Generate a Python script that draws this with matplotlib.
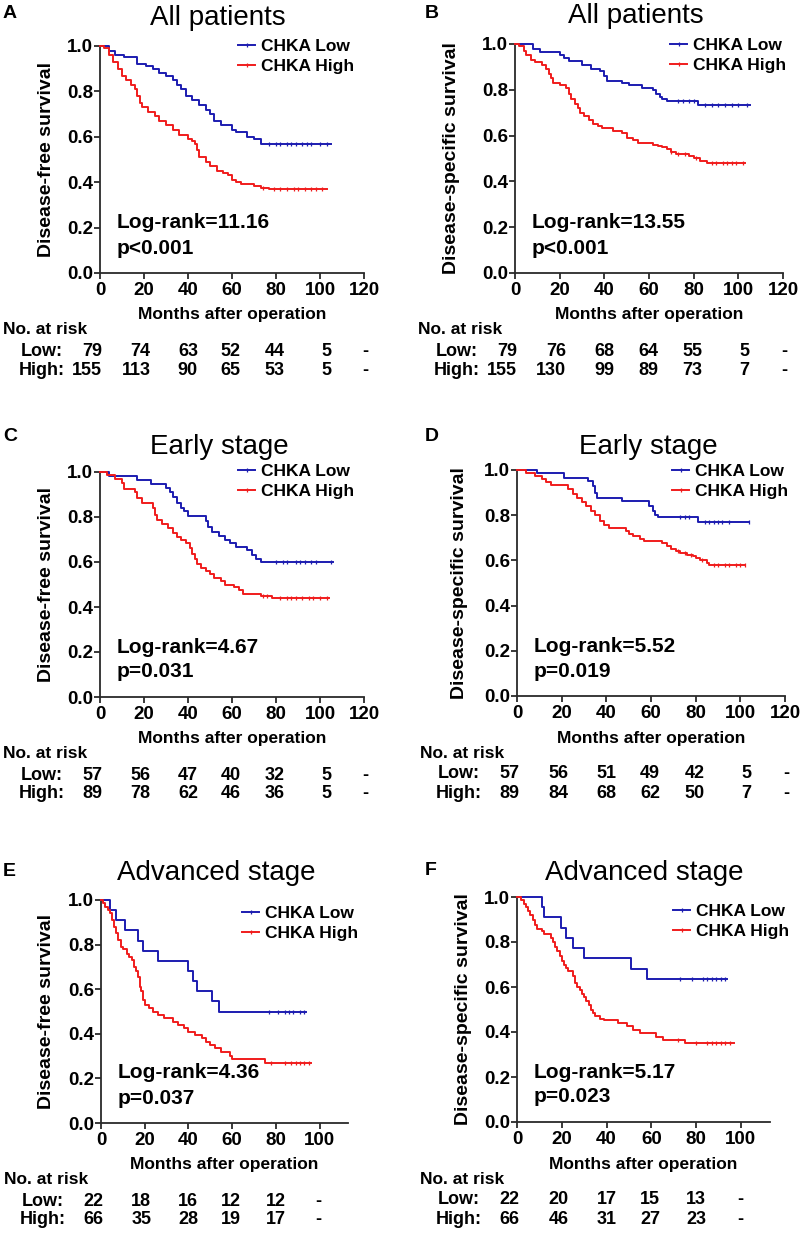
import numpy as np
import matplotlib
matplotlib.use("Agg")
import matplotlib.pyplot as plt
from matplotlib.lines import Line2D
from matplotlib.transforms import blended_transform_factory

plt.rcParams['font.family'] = ['Liberation Sans', 'DejaVu Sans']

W, H = 800, 1234
BLUE = '#1c1cb0'
RED = '#f01c1c'
AXC = '#2a2a2a'

# ---------------- DATA ---------------- #
# each curve: event times (months), survival after each step, censor times, last follow-up

A_low_t = [4, 7, 11, 17, 21, 24, 27, 30, 33, 35, 37, 39, 42, 45, 48, 50, 52, 55, 60, 62, 67, 70, 73]
A_low_s = [0.98, 0.96, 0.95, 0.92, 0.91, 0.90, 0.88, 0.87, 0.85, 0.83, 0.81, 0.78, 0.76, 0.74,
           0.72, 0.70, 0.67, 0.65, 0.63, 0.62, 0.60, 0.59, 0.57]
A_low_cens = [77, 80, 82, 85, 87, 89, 92, 94, 96, 100, 103]
A_low_end = 105
A_high_t = [2, 4, 6, 8, 10, 12, 14, 16, 17, 18, 19, 22, 25, 27, 30, 33, 36, 40, 42, 43, 44, 45,
            48, 50, 53, 56, 58, 60, 62, 64, 70, 73, 77]
A_high_s = [0.99, 0.96, 0.93, 0.90, 0.87, 0.85, 0.83, 0.81, 0.78, 0.75, 0.73, 0.71, 0.69, 0.67,
            0.65, 0.63, 0.61, 0.59, 0.58, 0.57, 0.54, 0.51, 0.49, 0.47, 0.45, 0.44, 0.43, 0.41,
            0.40, 0.39, 0.385, 0.375, 0.37]
A_high_cens = [74, 79, 82, 85, 88, 90, 93, 96, 98, 101]
A_high_end = 103

B_low_t = [8, 11, 20, 22, 24, 30, 34, 38, 40, 41, 48, 51, 57, 62, 63, 65, 66, 68, 82]
B_low_s = [0.98, 0.963, 0.95, 0.94, 0.924, 0.91, 0.89, 0.88, 0.86, 0.839, 0.83, 0.82, 0.81, 0.80,
           0.78, 0.77, 0.76, 0.749, 0.735]
B_low_cens = [73, 75, 78, 80, 85, 88, 91, 94, 97, 100, 104]
B_low_end = 105
B_high_t = [2, 4, 5, 7, 9, 12, 14, 15, 16, 17, 20, 23, 24, 25, 27, 28, 29, 31, 33, 35, 37, 39,
            44, 48, 50, 53, 55, 62, 64, 66, 68, 70, 72, 78, 80, 83, 86]
B_high_s = [0.99, 0.97, 0.95, 0.93, 0.92, 0.91, 0.89, 0.87, 0.85, 0.83, 0.82, 0.81, 0.78, 0.76,
            0.74, 0.72, 0.70, 0.684, 0.67, 0.65, 0.64, 0.633, 0.62, 0.611, 0.59, 0.58, 0.567,
            0.56, 0.555, 0.55, 0.54, 0.53, 0.52, 0.51, 0.50, 0.49, 0.48]
B_high_cens = [70, 73, 76, 81, 88, 90, 93, 95, 97, 99, 102]
B_high_end = 103

C_low_t = [4, 17, 23, 30, 32, 33, 35, 37, 38, 40, 48, 49, 51, 54, 57, 59, 62, 67, 69, 71, 73]
C_low_s = [0.982, 0.963, 0.945, 0.93, 0.91, 0.89, 0.86, 0.84, 0.825, 0.805, 0.78, 0.757, 0.735,
           0.715, 0.70, 0.685, 0.668, 0.655, 0.63, 0.615, 0.60]
C_low_cens = [80, 83, 85, 89, 91, 93, 96, 98, 105]
C_low_end = 106
C_high_t = [3, 7, 10, 11, 16, 17, 19, 24, 25, 26, 28, 31, 33, 35, 37, 39, 41, 42, 43, 44, 46,
            48, 50, 52, 55, 57, 61, 63, 65, 73, 78]
C_high_s = [0.985, 0.97, 0.95, 0.926, 0.91, 0.885, 0.86, 0.84, 0.81, 0.785, 0.77, 0.75, 0.73,
            0.713, 0.70, 0.685, 0.66, 0.635, 0.615, 0.59, 0.575, 0.56, 0.545, 0.53, 0.515, 0.50,
            0.49, 0.475, 0.46, 0.45, 0.44]
C_high_cens = [74, 76, 82, 85, 87, 89, 92, 95, 97, 100, 103]
C_high_end = 104

D_low_t = [9, 21, 32, 34, 35, 36, 47, 59, 61, 62, 63, 81]
D_low_s = [0.985, 0.966, 0.95, 0.93, 0.90, 0.878, 0.863, 0.84, 0.82, 0.80, 0.79, 0.771]
D_low_cens = [73, 75, 77, 84, 86, 88, 90, 92, 95, 104]
D_low_end = 104
D_high_t = [4, 8, 11, 13, 15, 23, 25, 27, 29, 31, 33, 35, 37, 39, 41, 49, 50, 52, 55, 57, 65,
            67, 69, 71, 73, 76, 79, 80, 82, 85, 86]
D_high_s = [0.985, 0.975, 0.96, 0.945, 0.933, 0.915, 0.895, 0.875, 0.86, 0.84, 0.82, 0.80, 0.775,
            0.756, 0.745, 0.73, 0.715, 0.71, 0.695, 0.687, 0.675, 0.665, 0.65, 0.64, 0.631, 0.625,
            0.62, 0.61, 0.60, 0.59, 0.58]
D_high_cens = [72, 75, 78, 83, 88, 90, 93, 95, 98, 100, 102]
D_high_end = 102

E_low_t = [4, 7, 11, 17, 19, 26, 40, 42, 44, 51, 54]
E_low_s = [0.955, 0.909, 0.864, 0.818, 0.773, 0.727, 0.682, 0.636, 0.591, 0.545, 0.50]
E_low_cens = [77, 81, 84, 86, 88, 91, 93]
E_low_end = 94
E_high_t = [1, 2, 3, 4, 5, 6, 7, 8, 9, 10, 12, 13, 14, 15, 16, 17, 18, 18.5, 19, 20, 22, 24, 26,
            29, 33, 35, 38, 40, 43, 46, 48, 50, 52, 55, 59, 60, 75]
E_high_s = [0.985, 0.97, 0.955, 0.94, 0.91, 0.88, 0.85, 0.82, 0.79, 0.78, 0.76, 0.745, 0.73, 0.70,
            0.68, 0.655, 0.61, 0.59, 0.55, 0.53, 0.515, 0.50, 0.485, 0.47, 0.455, 0.44, 0.425,
            0.41, 0.395, 0.38, 0.365, 0.35, 0.335, 0.32, 0.30, 0.285, 0.27]
E_high_cens = [78, 84, 87, 89, 91, 93, 95]
E_high_end = 96

F_low_t = [11, 12, 19.5, 22, 25, 30, 51, 58]
F_low_s = [0.955, 0.909, 0.864, 0.818, 0.773, 0.727, 0.682, 0.636]
F_low_cens = [73, 78, 83, 85, 87, 89, 91, 93]
F_low_end = 94
F_high_t = [2, 3, 4, 5, 6, 7, 8, 9, 11, 12, 15, 16, 17, 18, 19, 20, 21, 22, 23, 25, 26, 27, 28,
            29, 30, 31, 32, 33, 34, 35, 37, 39, 45, 49, 52, 55, 62, 65, 75]
F_high_s = [0.985, 0.97, 0.955, 0.94, 0.92, 0.90, 0.875, 0.86, 0.85, 0.835, 0.82, 0.80, 0.78,
            0.76, 0.74, 0.715, 0.70, 0.685, 0.67, 0.65, 0.62, 0.60, 0.585, 0.57, 0.555, 0.54,
            0.52, 0.50, 0.485, 0.47, 0.46, 0.455, 0.44, 0.425, 0.41, 0.395, 0.38, 0.365, 0.35]
F_high_cens = [72, 80, 85, 87, 89, 91, 93, 95]
F_high_end = 97

# numbers at risk
A_risk_low = ['79', '74', '63', '52', '44', '5', '-']
A_risk_high = ['155', '113', '90', '65', '53', '5', '-']
B_risk_low = ['79', '76', '68', '64', '55', '5', '-']
B_risk_high = ['155', '130', '99', '89', '73', '7', '-']
C_risk_low = ['57', '56', '47', '40', '32', '5', '-']
C_risk_high = ['89', '78', '62', '46', '36', '5', '-']
D_risk_low = ['57', '56', '51', '49', '42', '5', '-']
D_risk_high = ['89', '84', '68', '62', '50', '7', '-']
E_risk_low = ['22', '18', '16', '12', '12', '-']
E_risk_high = ['66', '35', '28', '19', '17', '-']
F_risk_low = ['22', '20', '17', '15', '13', '-']
F_risk_high = ['66', '46', '31', '27', '23', '-']

titles = ['All patients', 'All patients', 'Early stage', 'Early stage',
          'Advanced stage', 'Advanced stage']
ylabels = ['Disease-free survival', 'Disease-specific survival'] * 3
letters = ['A', 'B', 'C', 'D', 'E', 'F']
logrank = ['Log-rank=11.16', 'Log-rank=13.55', 'Log-rank=4.67', 'Log-rank=5.52',
           'Log-rank=4.36', 'Log-rank=5.17']
pvals = ['p<0.001', 'p<0.001', 'p=0.031', 'p=0.019', 'p=0.037', 'p=0.023']
ticks_long = [0, 20, 40, 60, 80, 100, 120]
ticks_short = [0, 20, 40, 60, 80, 100]

# ---------------- LAYOUT (pixels, top-left origin) ---------------- #
rects = [(100, 46, 364, 273), (515, 44, 783, 273),
         (100, 472, 364, 697), (517, 470, 785, 696),
         (101, 900, 348, 1123), (517, 897, 770, 1122)]
xmax = [120, 120, 120, 120, 113, 113]
letter_xy = [(3, 5), (425, 5), (3, 428), (425, 428), (3, 863), (425, 862)]
title_xy = [(218, 25), (636, 23), (219, 454), (648, 454), (216, 880), (644, 880)]
ylab_x = [47, 451, 47, 460, 47, 464]
legend_xy = [(238, 49), (670, 48), (238, 474), (672, 474), (242, 916), (673, 914)]
risk_cols_long = [1, 23, 44.5, 64, 84, 105, 122]
risk_cols_short = [1, 23, 44.5, 64, 84.5, 101]


def fx(x):
    return x / W


def fy(y):
    return 1 - y / H


def km_step(ax, t, s, cens, end, color):
    x = [0] + list(t) + [end]
    y = [1.0] + list(s) + [s[-1]]
    ax.step(x, y, where='post', color=color, lw=1.4, clip_on=False, zorder=3)
    idx = np.searchsorted(t, cens, side='right') - 1
    cy = np.where(idx < 0, 1.0, np.array(s)[np.clip(idx, 0, None)])
    ax.plot(cens, cy, ls='none', marker='|', ms=3, mew=0.9, color=color,
            clip_on=False, zorder=3)


curves = [
    (A_low_t, A_low_s, A_low_cens, A_low_end, A_high_t, A_high_s, A_high_cens, A_high_end),
    (B_low_t, B_low_s, B_low_cens, B_low_end, B_high_t, B_high_s, B_high_cens, B_high_end),
    (C_low_t, C_low_s, C_low_cens, C_low_end, C_high_t, C_high_s, C_high_cens, C_high_end),
    (D_low_t, D_low_s, D_low_cens, D_low_end, D_high_t, D_high_s, D_high_cens, D_high_end),
    (E_low_t, E_low_s, E_low_cens, E_low_end, E_high_t, E_high_s, E_high_cens, E_high_end),
    (F_low_t, F_low_s, F_low_cens, F_low_end, F_high_t, F_high_s, F_high_cens, F_high_end),
]
risks = [(A_risk_low, A_risk_high), (B_risk_low, B_risk_high), (C_risk_low, C_risk_high),
         (D_risk_low, D_risk_high), (E_risk_low, E_risk_high), (F_risk_low, F_risk_high)]

fig = plt.figure(figsize=(W / 100, H / 100), dpi=100)

for i in range(6):
    l, t, r, b = rects[i]
    ax = fig.add_axes([fx(l), fy(b), (r - l) / W, (b - t) / H])
    lt, ls, lc, le, ht, hs, hc, he = curves[i]
    km_step(ax, lt, ls, lc, le, BLUE)
    km_step(ax, ht, hs, hc, he, RED)

    ax.set_xlim(0, xmax[i])
    ax.set_ylim(0, 1.0)
    ticks = ticks_long if xmax[i] == 120 else ticks_short
    ax.set_xticks(ticks)
    ax.set_yticks([0, 0.2, 0.4, 0.6, 0.8, 1.0])
    ax.set_yticklabels(['0.0', '0.2', '0.4', '0.6', '0.8', '1.0'])
    for sp in ['top', 'right']:
        ax.spines[sp].set_visible(False)
    for sp in ['left', 'bottom']:
        ax.spines[sp].set_color(AXC)
        ax.spines[sp].set_linewidth(1.3)
    ax.tick_params(direction='out', length=4, width=1.3, color=AXC,
                   labelsize=13.5, pad=2)
    for lab in ax.get_xticklabels() + ax.get_yticklabels():
        lab.set_fontweight('bold')
    ax.tick_params(axis='y', pad=1)
    ax.tick_params(axis='x', pad=2.5)

    # panel letter, title, y label
    fig.text(fx(letter_xy[i][0]), fy(letter_xy[i][1]), letters[i], fontsize=14,
             fontweight='bold', ha='left', va='top')
    fig.text(fx(title_xy[i][0]), fy(title_xy[i][1]), titles[i], fontsize=20,
             ha='center', va='baseline')
    fig.text(fx(ylab_x[i]), fy((t + b) / 2), ylabels[i], fontsize=14, fontweight='bold',
             rotation=90, ha='center', va='center')
    fig.text(fx((l + r) / 2), fy(b + 42), 'Months after operation', fontsize=12.5,
             fontweight='bold', ha='center', va='center')

    # legend
    lx, ly = legend_xy[i]
    handles = [Line2D([], [], color=BLUE, lw=1.4, marker='|', ms=3, mew=0.9),
               Line2D([], [], color=RED, lw=1.4, marker='|', ms=3, mew=0.9)]
    ax.legend(handles, ['CHKA Low', 'CHKA High'], loc='upper left',
              bbox_to_anchor=(fx(lx), fy(ly - 10)), bbox_transform=fig.transFigure,
              frameon=False, borderpad=0, borderaxespad=0, handlelength=1.0,
              handletextpad=0.35, labelspacing=0.28, prop={'weight': 'bold', 'size': 12.5})

    # statistics
    fig.text(fx(l + 17), fy(b - 50), logrank[i], fontsize=15, fontweight='bold',
             ha='left', va='center')
    fig.text(fx(l + 17), fy(b - 25), pvals[i], fontsize=15, fontweight='bold',
             ha='left', va='center')

    # number at risk table
    fig.text(fx(l - 97), fy(b + 57), 'No. at risk', fontsize=12.5, fontweight='bold',
             ha='left', va='center')
    fig.text(fx(l - 58), fy(b + 78), 'Low:', fontsize=13, fontweight='bold',
             ha='center', va='center')
    fig.text(fx(l - 58), fy(b + 97), 'High:', fontsize=13, fontweight='bold',
             ha='center', va='center')
    trans = blended_transform_factory(ax.transData, fig.transFigure)
    cols = risk_cols_long if xmax[i] == 120 else risk_cols_short
    low, high = risks[i]
    for cx, lo, hi in zip(cols, low, high):
        ax.text(cx, fy(b + 78), lo, transform=trans, fontsize=13, fontweight='bold',
                ha='right', va='center', clip_on=False)
        ax.text(cx, fy(b + 97), hi, transform=trans, fontsize=13, fontweight='bold',
                ha='right', va='center', clip_on=False)

fig.savefig('out.png', dpi=100)
